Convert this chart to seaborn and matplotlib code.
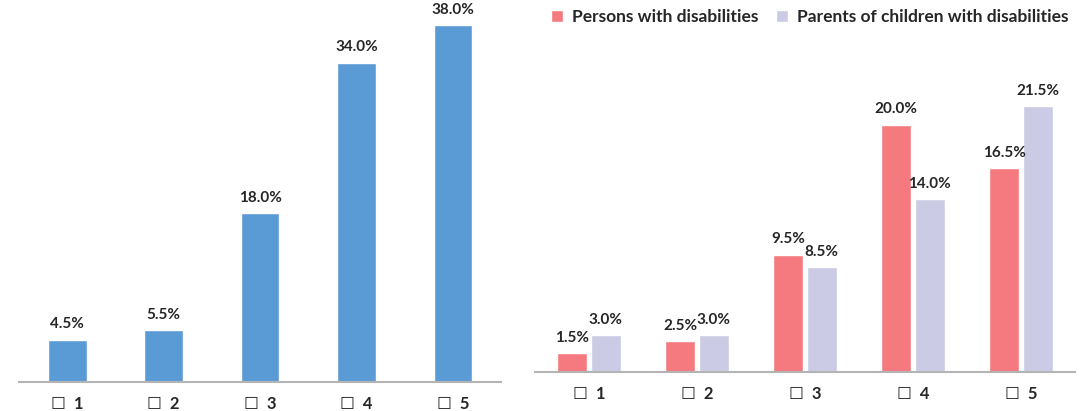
import matplotlib
matplotlib.use("Agg")
import matplotlib.pyplot as plt
import seaborn as sns
import pandas as pd

categories = ["☐  1", "☐  2", "☐  3", "☐  4", "☐  5"]
overall = [4.5, 5.5, 18.0, 34.0, 38.0]
series_names = ["Persons with disabilities", "Parents of children with disabilities"]
persons = [1.5, 2.5, 9.5, 20.0, 16.5]
parents = [3.0, 3.0, 8.5, 14.0, 21.5]

sns.set_theme(style="white")
plt.rcParams['font.family'] = ['Lato', 'DejaVu Sans']
plt.rcParams['font.weight'] = 'bold'

BLUE = "#5b9bd5"
PINK = "#f47a80"
LAV = "#cccbe6"
TXT = "#262626"
AXC = "#b4b4b4"

fig = plt.figure(figsize=(10.87, 4.11), dpi=100)

# Left panel
ax1 = fig.add_axes([0.0175, 0.0706, 0.4435, 0.914])
df1 = pd.DataFrame({"cat": categories, "val": overall})
sns.barplot(data=df1, x="cat", y="val", color=BLUE, width=0.4, saturation=1, ax=ax1)
ax1.set_ylim(0, 40)
for i, v in enumerate(overall):
    ax1.annotate(f"{v:.1f}%", (i, v), xytext=(0, 6), textcoords="offset points",
                 ha="center", va="bottom", fontsize=11, fontweight="bold", color=TXT,
                 annotation_clip=False)

# Right panel
ax2 = fig.add_axes([0.492, 0.0949, 0.497, 0.752])
df2 = pd.DataFrame({
    "cat": categories * 2,
    "val": persons + parents,
    "grp": [series_names[0]] * 5 + [series_names[1]] * 5,
})
sns.barplot(data=df2, x="cat", y="val", hue="grp", palette=[PINK, LAV],
            width=0.62, gap=0.1, saturation=1, ax=ax2)
ax2.set_ylim(0, 25)
for cont, vals in zip(ax2.containers, [persons, parents]):
    for bar, v in zip(cont, vals):
        ax2.annotate(f"{v:.1f}%", (bar.get_x() + bar.get_width() / 2, v),
                     xytext=(0, 6), textcoords="offset points",
                     ha="center", va="bottom", fontsize=11, fontweight="bold",
                     color=TXT, annotation_clip=False)
leg = ax2.legend(loc="lower right", bbox_to_anchor=(1.0, 1.1), ncol=2, frameon=False,
                 fontsize=12.5, handlelength=0.7, handleheight=0.7, handletextpad=0.5,
                 columnspacing=1.0, borderaxespad=0)
for t in leg.get_texts():
    t.set_fontweight("bold")
    t.set_color(TXT)

for ax in (ax1, ax2):
    ax.set_xlabel("")
    ax.set_ylabel("")
    ax.set_yticks([])
    for s in ("top", "right", "left"):
        ax.spines[s].set_visible(False)
    ax.spines["bottom"].set_color(AXC)
    ax.spines["bottom"].set_linewidth(1.5)
    ax.tick_params(axis="x", length=0, pad=10, labelsize=12, labelcolor=TXT)
    for lab in ax.get_xticklabels():
        lab.set_fontweight("bold")

fig.savefig("out.png", dpi=100)
